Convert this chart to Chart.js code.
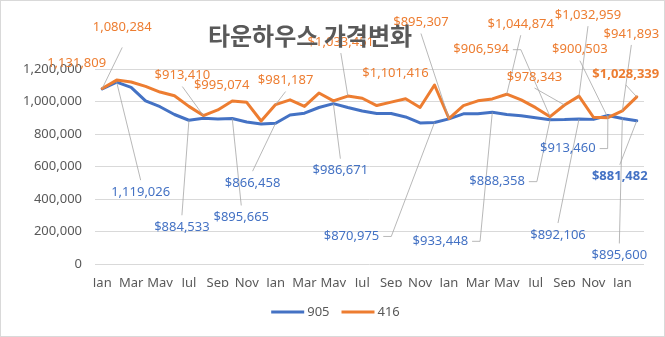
<!DOCTYPE html>
<html>
<head>
<meta charset="utf-8">
<title>타운하우스 가격변화</title>
<script src="https://cdn.jsdelivr.net/npm/chart.js@4/dist/chart.umd.min.js"></script>
<style>
  html, body { margin: 0; padding: 0; background: #fff; }
  #box { width: 665px; height: 337px; }
</style>
</head>
<body>
<div id="box"><canvas id="chart" width="665" height="337"></canvas></div>
<script>
// monthly price series, Jan (year 1) .. Feb (year 4)
const months = ['Jan','Feb','Mar','Apr','May','Jun','Jul','Aug','Sep','Oct','Nov','Dec'];
const xLabels = [...months, ...months, ...months, 'Jan', 'Feb'];

const series905 = [
  1078000, 1119026, 1087000, 1004000, 968000, 920000, 884533, 897000, 893000, 895665,
  874000, 862000, 866458, 917000, 928000, 963000, 986671, 963000, 942000, 926000,
  926000, 905000, 868000, 870975, 893000, 924000, 924000, 933448, 920000, 912000,
  900000, 888358, 889000, 892106, 890000, 913460, 895600, 881482
];
const series416 = [
  1080284, 1131809, 1120000, 1093000, 1058000, 1035000, 970000, 913410, 948000, 1003000,
  995074, 880000, 981187, 1010000, 970000, 1052000, 1004000, 1033451, 1020000, 975000,
  996000, 1017000, 963000, 1101416, 895307, 975000, 1004000, 1016000, 1044874, 1010000,
  962000, 906594, 978343, 1032959, 903000, 900503, 941893, 1028339
];

const yMax = 1200000;
const yStep = 200000;

// where each value label sits relative to its point, and how its leader line leaves it
const notes905 = [
  { i: 1,  dx: 24,  dy: 110, lead: 'top', plain: true },
  { i: 6,  dx: -7,  dy: 107, lead: 'top' },
  { i: 9,  dx: 9,   dy: 99,  lead: 'top' },
  { i: 12, dx: -23, dy: 60,  lead: 'top' },
  { i: 16, dx: 7,   dy: 67,  lead: 'top' },
  { i: 23, dx: -83, dy: 114, lead: 'right' },
  { i: 27, dx: -52, dy: 129, lead: 'right' },
  { i: 31, dx: -53, dy: 62,  lead: 'right' },
  { i: 33, dx: -21, dy: 116, lead: 'top' },
  { i: 35, dx: -40, dy: 33,  lead: 'right' },
  { i: 36, dx: -3,  dy: 137, lead: 'top' },
  { i: 37, dx: -17, dy: 56,  lead: 'top', bold: true }
];
const notes416 = [
  { i: 0,  dx: 20,  dy: -61, lead: 'bottom', plain: true, gap: 20 },
  { i: 1,  dx: -40, dy: -17, plain: true },
  { i: 7,  dx: -21, dy: -40, lead: 'bottom' },
  { i: 10, dx: -25, dy: -17 },
  { i: 12, dx: 10,  dy: -24, lead: 'bottom' },
  { i: 17, dx: -7,  dy: -54, lead: 'bottom' },
  { i: 23, dx: -39, dy: -12 },
  { i: 24, dx: -28, dy: -96, lead: 'bottom' },
  { i: 28, dx: 14,  dy: -70, lead: 'bottom' },
  { i: 31, dx: -69, dy: -67, lead: 'right' },
  { i: 32, dx: -30, dy: -28, lead: 'bottom' },
  { i: 33, dx: 9,   dy: -81, lead: 'bottom' },
  { i: 35, dx: -28, dy: -68, lead: 'bottom' },
  { i: 36, dx: 9,   dy: -77, lead: 'bottom' },
  { i: 37, dx: -11, dy: -23, lead: 'bottom', bold: true }
];

const BLUE = '#4472C4';
const ORANGE = '#ED7D31';
const GREY = '#595959';
const FONT = "'Noto Sans', sans-serif";

const fmt = v => v.toLocaleString('en-US');

const frame = {
  id: 'frame',
  beforeDraw(chart) {
    const { ctx, width, height } = chart;
    ctx.save();
    ctx.fillStyle = '#fff';
    ctx.fillRect(0, 0, width, height);
    ctx.strokeStyle = '#d9d9d9';
    ctx.lineWidth = 1;
    ctx.strokeRect(0.5, 0.5, width - 1, height - 1);
    ctx.restore();
  }
};

const valueNotes = {
  id: 'valueNotes',
  afterDatasetsDraw(chart) {
    const ctx = chart.ctx;
    const sets = [[0, notes905, BLUE], [1, notes416, ORANGE]];
    ctx.save();
    sets.forEach(([ds, notes, color]) => {
      const meta = chart.getDatasetMeta(ds);
      const data = chart.data.datasets[ds].data;
      notes.forEach(n => {
        const pt = meta.data[n.i];
        const text = (n.plain ? '' : '$') + fmt(data[n.i]);
        const cx = pt.x + n.dx, cy = pt.y + n.dy;
        ctx.font = (n.bold ? 'bold ' : '') + '13px ' + FONT;
        const w = ctx.measureText(text).width;
        if (n.lead) {
          ctx.strokeStyle = '#a6a6a6';
          ctx.lineWidth = 0.8;
          ctx.beginPath();
          if (n.lead === 'right') {
            const sx = cx + w / 2 + 4;
            ctx.moveTo(sx, cy);
            ctx.lineTo(sx + 8, cy);
          } else {
            const gap = n.gap || 11;
            ctx.moveTo(cx, n.lead === 'top' ? cy - gap - 1 : cy + gap);
          }
          ctx.lineTo(pt.x, pt.y);
          ctx.stroke();
        }
        ctx.fillStyle = color;
        ctx.textAlign = 'center';
        ctx.textBaseline = 'middle';
        ctx.fillText(text, cx, cy);
      });
    });
    ctx.restore();
  }
};

const titleAndLegend = {
  id: 'titleAndLegend',
  afterDraw(chart) {
    const { ctx, width } = chart;
    ctx.save();
    ctx.fillStyle = GREY;
    ctx.font = "bold 24px 'Noto Sans CJK KR', sans-serif";
    ctx.textAlign = 'center';
    ctx.textBaseline = 'middle';
    ctx.fillText('타운하우스 가격변화', 310, 36);

    // legend: short line swatch + series name
    ctx.font = '13px ' + FONT;
    ctx.textAlign = 'left';
    const items = chart.data.datasets.map(d => ({ label: d.label, color: d.borderColor, w: ctx.measureText(d.label).width }));
    const total = items.reduce((s, it) => s + 33 + 3 + it.w, 0) + 12 * (items.length - 1);
    let x = width / 2 - total / 2 + 3;
    const y = 312;
    items.forEach(it => {
      ctx.strokeStyle = it.color;
      ctx.lineWidth = 3;
      ctx.beginPath();
      ctx.moveTo(x, y);
      ctx.lineTo(x + 33, y);
      ctx.stroke();
      ctx.fillText(it.label, x + 36, y);
      x += 36 + it.w + 12;
    });
    ctx.restore();
  }
};

new Chart(document.getElementById('chart'), {
  type: 'line',
  data: {
    labels: xLabels,
    datasets: [
      { label: '905', data: series905, borderColor: BLUE, backgroundColor: BLUE, borderWidth: 3, order: 1 },
      { label: '416', data: series416, borderColor: ORANGE, backgroundColor: ORANGE, borderWidth: 3, order: 0 }
    ]
  },
  options: {
    responsive: false,
    animation: false,
    layout: { padding: { top: 69, right: 21, bottom: 50, left: 0 } },
    elements: {
      line: { tension: 0, borderJoinStyle: 'round', borderCapStyle: 'round' },
      point: { radius: 0 }
    },
    scales: {
      x: {
        offset: true,
        grid: { display: false, drawTicks: false },
        border: { display: false },
        afterFit: s => { s.height = 23; },
        ticks: {
          autoSkip: false,
          maxRotation: 0,
          padding: 11,
          color: GREY,
          font: { family: FONT, size: 13 },
          callback: (v, i) => (i % 2 === 0 ? xLabels[i] : '')
        }
      },
      y: {
        min: 0,
        max: yMax,
        grid: { color: '#d9d9d9', drawTicks: false },
        border: { display: false },
        afterFit: s => { s.width = 95; },
        ticks: {
          stepSize: yStep,
          padding: 13,
          color: GREY,
          font: { family: FONT, size: 13 },
          callback: v => fmt(v)
        }
      }
    },
    plugins: {
      legend: { display: false },
      tooltip: { enabled: false }
    }
  },
  plugins: [frame, valueNotes, titleAndLegend]
});
</script>
</body>
</html>
